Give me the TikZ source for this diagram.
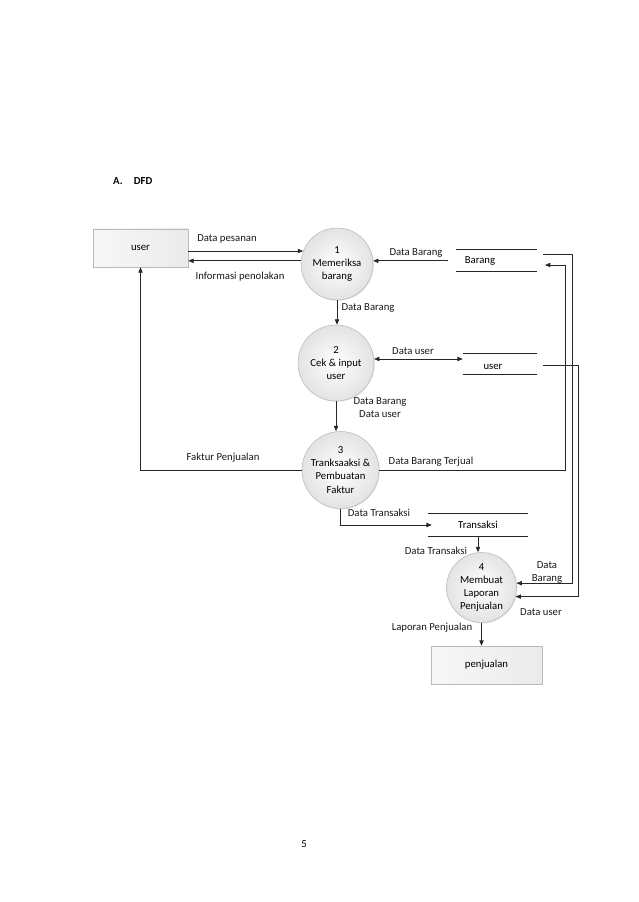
\documentclass[tikz,border=0pt]{standalone}
\usepackage{fontspec}
\setmainfont{Carlito}
\usetikzlibrary{arrows.meta,shadows,calc}
\newlength\pxu
\setlength\pxu{0.9326pt}
\begin{document}
\begin{tikzpicture}[x=0.9326pt,y=-0.9326pt,
  font=\fontsize{10pt}{12.2pt}\selectfont,
  every node/.style={inner sep=0pt},
  flow/.style={draw=black!85,line width=0.7pt,-{Triangle[length=5pt,width=4pt]}},
  bflow/.style={draw=black!85,line width=0.7pt,{Triangle[length=5pt,width=4pt]}-{Triangle[length=5pt,width=4pt]}},
  proc/.style={circle,draw=gray!55,line width=0.5pt,inner color=white,outer color=gray!22,
    align=center,drop shadow={shadow xshift=0.8pt,shadow yshift=-0.8pt,opacity=0.2}},
  entity/.style={rectangle,draw=gray!55,line width=0.5pt,left color=gray!6,right color=gray!16,
    drop shadow={shadow xshift=0.8pt,shadow yshift=-0.8pt,opacity=0.25}},
  store/.style={rectangle,draw=none},
  storeline/.style={draw=black!85,line width=0.7pt},
  lbl/.style={align=center,text=black!90}]
\useasboundingbox (0,0) rectangle (638,902);

% heading and page number
\node[font=\fontsize{10pt}{12pt}\selectfont\bfseries,anchor=base west] (head) at (113,185) {A.\hspace{1.05em}DFD};
\node[anchor=base] (pnum) at (304,847) {5};

% external entities
\node[entity,minimum width=95\pxu,minimum height=38\pxu] (user) at (140.5,248) {user};
\node[entity,minimum width=111\pxu,minimum height=38\pxu] (pj) at (486.5,665) {penjualan};

% processes
\node[proc,minimum size=72\pxu] (c1) at (337,264) {1\\Memeriksa\\barang};
\node[proc,minimum size=76\pxu] (c2) at (336,363) {2\\Cek \& input\\user};
\node[proc,minimum size=77\pxu] (c3) at (340.5,470) {3\\Tranksaaksi \&\\Pembuatan\\Faktur};
\node[proc,minimum size=70\pxu] (c4) at (481.5,587.5) {4\\Membuat\\Laporan\\Penjualan};

% data stores
\node[store,minimum width=81\pxu,minimum height=21\pxu] (bstore) at (496.5,260.5) {};
\draw[storeline] (bstore.north west) -- (bstore.north east);
\draw[storeline] (bstore.south west) -- (bstore.south east);
\node (btxt) at (480,261) {Barang};

\node[store,minimum width=74\pxu,minimum height=20\pxu] (ustore) at (500,364) {};
\draw[storeline] (ustore.north west) -- (ustore.north east);
\draw[storeline] (ustore.south west) -- (ustore.south east);
\node (utxt) at (493,367) {user};

\node[store,minimum width=100\pxu,minimum height=22\pxu] (tstore) at (478,525) {Transaksi};
\draw[storeline] (tstore.north west) -- (tstore.north east);
\draw[storeline] (tstore.south west) -- (tstore.south east);

% free ends at the stores
\coordinate (bleft) at ($(c1.5)+(75,0)$);
\coordinate (bout) at (543,254);
\coordinate (bin) at (545,265);
\coordinate (uout) at (543,365);

% flows
\draw[flow] (user.east |- c1.159) -- (c1.159);
\draw[flow] (c1.175) -- (user.east |- c1.175);
\draw[flow] (bleft) -- (c1.5);
\draw[flow] (c1.south) -- (c1.south |- c2.north);
\draw[bflow] (c2.6) -- (ustore.west |- c2.6);
\draw[flow] (c2.south) -- (c2.south |- c3.north);
\draw[flow] (c3.west) -| (user.south);
\draw[flow] (c3.east) -- ++(186,0) |- (bin);
\draw[flow] (c3.south) |- ([xshift=4\pxu]tstore.west);
\draw[flow] (tstore.south) -- (tstore.south |- c4.north);
\draw[flow] (bout) -- ++(29,0) |- (c4.7);
\draw[flow] (uout) -- ++(35,0) |- (c4.-15);
\draw[flow] (c4.south) -- (c4.south |- pj.north);

% flow labels
\node[lbl] (l1) at (227,239) {Data pesanan};
\node[lbl] (l2) at (240,277) {Informasi penolakan};
\node[lbl] (l3) at (416,253) {Data Barang};
\node[lbl] (l4) at (368,308) {Data Barang};
\node[lbl] (l5) at (413,351) {Data user};
\node[lbl] (l6) at (380,408) {Data Barang\\Data user};
\node[lbl] (l7) at (223,458) {Faktur Penjualan};
\node[lbl] (l8) at (431,462) {Data Barang Terjual};
\node[lbl] (l9) at (379,513) {Data Transaksi};
\node[lbl] (l10) at (436,551) {Data Transaksi};
\node[lbl] (l11) at (547,572.5) {Data\\Barang};
\node[lbl] (l12) at (541,612) {Data user};
\node[lbl] (l13) at (432,628) {Laporan Penjualan};
\end{tikzpicture}
\end{document}
